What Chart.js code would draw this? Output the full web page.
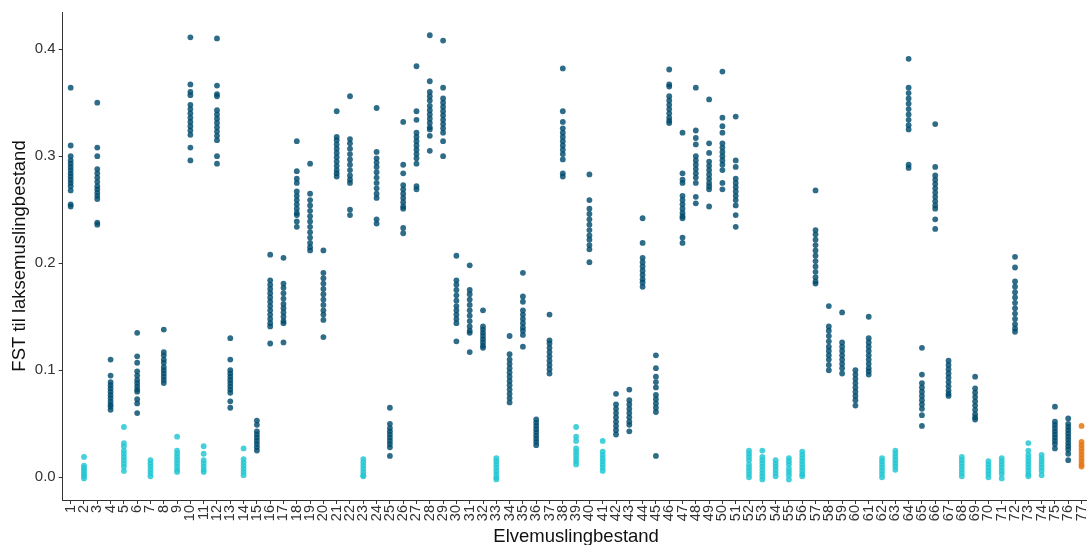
<!DOCTYPE html>
<html>
<head>
<meta charset="utf-8">
<script src="https://cdn.jsdelivr.net/npm/chart.js@4"></script>
<style>
  html, body { margin: 0; padding: 0; background: #fff; overflow: hidden; }
  #wrap { width: 1100px; height: 545px; }
</style>
</head>
<body>
<div id="wrap"><canvas id="c" width="1100" height="545"></canvas></div>
<script>
// Stand numbers along the x axis
const stands = ['1','2','3','4','5','6','7','8','9','10','11','12','13','14','15','16','17','18','19','20',
  '21','22','23','24','25','26','27','28','29','30','31','32','33','34','35','36','37','38','39','40',
  '41','42','43','44','45','46','47','48','49','50','51','52','53','54','55','56','57','58','59','60',
  '61','62','63','64','65','66','67','68','69','70','71','72','73','74','75','76','77'];

// Stands drawn in the light (cyan) and orange colours; all others are dark blue
const cyanStands = [2,5,7,9,11,14,23,33,39,41,52,53,54,55,56,62,63,68,70,71,73,74];
const orangeStands = [77];

// Y axis ticks
const yTicks = [0, 0.1, 0.2, 0.3, 0.4];
const yTickLabels = ['0.0','0.1','0.2','0.3','0.4'];

// FST values against the salmon-mussel population, one list per stand
const fst = [
  [0.364,0.310,0.300,0.296,0.293,0.290,0.287,0.284,0.281,0.278,0.275,0.272,0.268,0.255,0.253],
  [0.019,0.011,0.009,0.007,0.005,0.003,0.001,-0.001],
  [0.350,0.308,0.300,0.288,0.284,0.280,0.276,0.272,0.269,0.266,0.263,0.260,0.238,0.236],
  [0.110,0.095,0.089,0.086,0.083,0.080,0.077,0.074,0.071,0.068,0.066,0.063],
  [0.047,0.032,0.029,0.025,0.022,0.019,0.016,0.013,0.010,0.006],
  [0.135,0.113,0.107,0.099,0.095,0.091,0.088,0.085,0.082,0.080,0.073,0.069,0.060],
  [0.016,0.013,0.010,0.007,0.004,0.001],
  [0.138,0.117,0.114,0.110,0.107,0.103,0.100,0.097,0.094,0.091,0.088],
  [0.038,0.025,0.022,0.019,0.016,0.013,0.010,0.007,0.005],
  [0.411,0.367,0.360,0.357,0.348,0.344,0.340,0.336,0.332,0.328,0.324,0.320,0.308,0.296],
  [0.029,0.022,0.016,0.013,0.010,0.007,0.005],
  [0.410,0.366,0.358,0.356,0.343,0.339,0.335,0.331,0.327,0.323,0.319,0.315,0.300,0.293],
  [0.130,0.110,0.100,0.097,0.094,0.091,0.088,0.085,0.082,0.079,0.071,0.065],
  [0.027,0.017,0.014,0.011,0.008,0.005,0.002],
  [0.053,0.049,0.043,0.040,0.037,0.034,0.031,0.028,0.025],
  [0.208,0.184,0.180,0.176,0.172,0.168,0.164,0.160,0.156,0.152,0.148,0.144,0.141,0.125],
  [0.205,0.181,0.177,0.172,0.167,0.162,0.158,0.154,0.150,0.146,0.144,0.126],
  [0.314,0.286,0.279,0.275,0.267,0.263,0.259,0.255,0.251,0.247,0.245,0.239,0.234],
  [0.293,0.265,0.259,0.254,0.249,0.244,0.239,0.234,0.229,0.224,0.219,0.215,0.212],
  [0.212,0.191,0.186,0.181,0.176,0.171,0.166,0.161,0.156,0.152,0.147,0.131],
  [0.342,0.318,0.315,0.311,0.307,0.303,0.299,0.295,0.291,0.287,0.284,0.281],
  [0.356,0.316,0.312,0.307,0.302,0.297,0.292,0.287,0.282,0.278,0.275,0.250,0.245],
  [0.017,0.014,0.011,0.008,0.005,0.002,0.001],
  [0.345,0.304,0.298,0.294,0.290,0.285,0.280,0.275,0.270,0.265,0.261,0.241,0.237],
  [0.065,0.050,0.046,0.043,0.040,0.037,0.034,0.031,0.028,0.020],
  [0.332,0.292,0.284,0.273,0.269,0.265,0.261,0.257,0.253,0.251,0.233,0.228],
  [0.384,0.342,0.334,0.322,0.318,0.314,0.310,0.306,0.302,0.298,0.293,0.272,0.269],
  [0.413,0.370,0.360,0.356,0.352,0.347,0.343,0.339,0.335,0.331,0.327,0.325,0.319,0.305],
  [0.408,0.364,0.354,0.350,0.346,0.342,0.338,0.334,0.330,0.326,0.322,0.314,0.300],
  [0.207,0.184,0.180,0.175,0.170,0.165,0.160,0.156,0.152,0.148,0.144,0.127],
  [0.198,0.175,0.171,0.166,0.161,0.156,0.151,0.146,0.141,0.137,0.135,0.117],
  [0.156,0.141,0.138,0.135,0.132,0.129,0.126,0.123,0.121],
  [0.018,0.015,0.012,0.009,0.006,0.003,0.000,-0.002],
  [0.132,0.115,0.110,0.106,0.102,0.098,0.094,0.090,0.086,0.082,0.078,0.074,0.070],
  [0.191,0.169,0.164,0.156,0.152,0.148,0.144,0.140,0.137,0.133,0.122],
  [0.054,0.051,0.048,0.045,0.042,0.039,0.036,0.033,0.030],
  [0.152,0.128,0.125,0.121,0.117,0.113,0.109,0.105,0.101,0.097],
  [0.382,0.342,0.332,0.326,0.322,0.318,0.314,0.310,0.306,0.302,0.297,0.284,0.281],
  [0.047,0.038,0.034,0.027,0.024,0.021,0.018,0.015,0.012],
  [0.283,0.259,0.251,0.246,0.241,0.236,0.231,0.226,0.222,0.217,0.213,0.201],
  [0.034,0.024,0.021,0.018,0.015,0.012,0.009,0.006],
  [0.078,0.068,0.064,0.060,0.056,0.052,0.048,0.044,0.040],
  [0.082,0.072,0.068,0.064,0.060,0.056,0.052,0.049,0.043],
  [0.242,0.219,0.205,0.201,0.197,0.193,0.189,0.185,0.182,0.178],
  [0.114,0.102,0.094,0.089,0.084,0.077,0.073,0.069,0.065,0.061,0.020],
  [0.381,0.367,0.365,0.356,0.352,0.348,0.344,0.340,0.336,0.333,0.331],
  [0.322,0.284,0.278,0.275,0.263,0.259,0.255,0.251,0.247,0.244,0.242,0.224,0.219],
  [0.364,0.324,0.317,0.311,0.300,0.296,0.292,0.288,0.284,0.280,0.275,0.262,0.256],
  [0.353,0.312,0.303,0.295,0.291,0.287,0.283,0.279,0.275,0.272,0.269,0.253],
  [0.379,0.336,0.328,0.322,0.312,0.308,0.304,0.300,0.296,0.292,0.287,0.275,0.269],
  [0.337,0.296,0.290,0.279,0.275,0.271,0.267,0.263,0.259,0.254,0.245,0.234],
  [0.025,0.022,0.019,0.016,0.012,0.009,0.006,0.003,0.000],
  [0.025,0.019,0.016,0.013,0.010,0.007,0.004,0.001,-0.002],
  [0.016,0.013,0.010,0.007,0.004,0.001],
  [0.018,0.015,0.012,0.008,0.005,0.002,-0.002],
  [0.024,0.021,0.018,0.015,0.012,0.009,0.006,0.003,0.001],
  [0.268,0.231,0.227,0.222,0.217,0.212,0.207,0.202,0.197,0.192,0.187,0.183,0.181],
  [0.160,0.141,0.137,0.132,0.127,0.122,0.118,0.114,0.110,0.105,0.100],
  [0.154,0.126,0.122,0.118,0.114,0.110,0.106,0.102,0.097],
  [0.100,0.096,0.092,0.088,0.084,0.080,0.076,0.072,0.067],
  [0.150,0.130,0.126,0.122,0.118,0.114,0.110,0.106,0.102,0.099,0.096],
  [0.018,0.015,0.012,0.009,0.006,0.003,0.000],
  [0.025,0.022,0.019,0.016,0.013,0.010,0.007],
  [0.391,0.364,0.359,0.354,0.349,0.344,0.339,0.334,0.329,0.325,0.292,0.289],
  [0.121,0.096,0.088,0.084,0.080,0.076,0.072,0.068,0.064,0.058,0.048],
  [0.330,0.290,0.282,0.278,0.274,0.270,0.266,0.262,0.258,0.254,0.251,0.241,0.232],
  [0.109,0.105,0.101,0.097,0.093,0.089,0.085,0.081,0.078,0.076],
  [0.019,0.016,0.013,0.010,0.007,0.004,0.001],
  [0.094,0.083,0.079,0.075,0.071,0.067,0.063,0.059,0.056,0.054],
  [0.015,0.012,0.009,0.006,0.003,0.000],
  [0.018,0.015,0.012,0.009,0.006,0.003,-0.001],
  [0.206,0.196,0.183,0.178,0.173,0.168,0.163,0.158,0.153,0.148,0.143,0.139,0.136],
  [0.032,0.025,0.021,0.018,0.015,0.012,0.009,0.006,0.003,0.001],
  [0.021,0.018,0.015,0.012,0.009,0.006,0.002],
  [0.066,0.052,0.049,0.046,0.043,0.040,0.037,0.034,0.031,0.027],
  [0.055,0.050,0.047,0.044,0.041,0.038,0.035,0.032,0.029,0.026,0.022,0.016],
  [0.048,0.033,0.030,0.027,0.024,0.021,0.018,0.015,0.012,0.010]
];

// Split the points into the three colour groups
const darkPts = [], cyanPts = [], orangePts = [];
fst.forEach((vals, i) => {
  const n = i + 1;
  const target = orangeStands.includes(n) ? orangePts : cyanStands.includes(n) ? cyanPts : darkPts;
  vals.forEach(v => target.push({ x: n, y: v }));
});

const FONT = "'Liberation Sans', Arial, sans-serif";
const pointStyle = (color) => ({
  backgroundColor: color, borderWidth: 0, pointRadius: 2.9, pointHoverRadius: 2.9
});

new Chart(document.getElementById('c'), {
  type: 'scatter',
  data: {
    datasets: [
      Object.assign({ label: 'dark', data: darkPts }, pointStyle('rgba(0,76,110,0.82)')),
      Object.assign({ label: 'cyan', data: cyanPts }, pointStyle('rgba(36,200,212,0.85)')),
      Object.assign({ label: 'orange', data: orangePts }, pointStyle('rgba(232,118,18,0.85)'))
    ]
  },
  options: {
    responsive: false,
    animation: false,
    events: [],
    layout: { padding: { top: 12, right: 8.2, left: 0, bottom: 0 } },
    plugins: { legend: { display: false }, tooltip: { enabled: false } },
    scales: {
      x: {
        type: 'linear',
        min: 0.4,
        max: stands.length + 0.6,
        afterBuildTicks: (s) => { s.ticks = stands.map((_, i) => ({ value: i + 1 })); },
        afterFit: (s) => { s.height = 45; },
        ticks: {
          autoSkip: false, minRotation: 90, maxRotation: 90, padding: 1,
          color: '#333', font: { family: FONT, size: 14.5 },
          callback: (v) => stands[Math.round(v) - 1]
        },
        grid: { drawOnChartArea: false, drawTicks: true, tickLength: 4, color: '#333', lineWidth: 1 },
        border: { display: true, color: '#333', width: 1 },
        title: {
          display: true, text: 'Elvemuslingbestand', color: '#111',
          font: { family: FONT, size: 18.5, lineHeight: 1 }, padding: { top: 0, bottom: -1 }
        }
      },
      y: {
        type: 'linear',
        min: -0.0212,
        max: 0.4347,
        afterBuildTicks: (s) => { s.ticks = yTicks.map(v => ({ value: v })); },
        afterFit: (s) => { s.width = 62.7; },
        ticks: {
          padding: 3, color: '#333', font: { family: FONT, size: 15 },
          callback: (v) => yTickLabels[yTicks.findIndex(t => Math.abs(t - v) < 1e-9)]
        },
        grid: { drawOnChartArea: false, drawTicks: true, tickLength: 4, color: '#333', lineWidth: 1 },
        border: { display: true, color: '#333', width: 1 },
        title: {
          display: true, text: 'FST til laksemuslingbestand', color: '#111',
          font: { family: FONT, size: 18.5, lineHeight: 1.2 }, padding: { top: 9, bottom: 0 }
        }
      }
    }
  }
});
</script>
</body>
</html>
